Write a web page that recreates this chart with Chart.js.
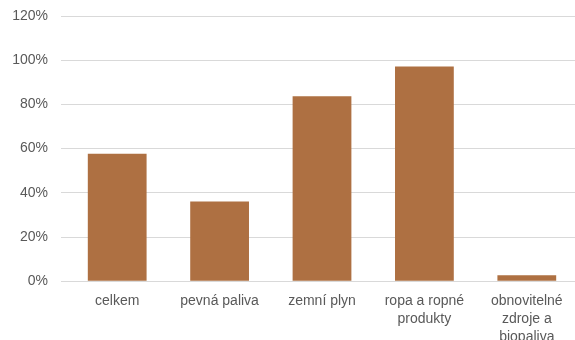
<!DOCTYPE html>
<html>
<head>
<meta charset="utf-8">
<script src="https://cdn.jsdelivr.net/npm/chart.js@4/dist/chart.umd.min.js"></script>
<style>
  html, body { margin: 0; padding: 0; background: #fff; overflow: hidden; }
  #wrap { position: relative; width: 578px; height: 349px; }
</style>
</head>
<body>
<div id="wrap"><canvas id="chart"></canvas></div>
<script>
const categories = [
  'celkem',
  'pevná paliva',
  'zemní plyn',
  ['ropa a ropné', 'produkty'],
  ['obnovitelné', 'zdroje a', 'biopaliva']
];
const shares = [57.7, 36.1, 83.7, 97.1, 2.7];
const yTicks = [0, 20, 40, 60, 80, 100, 120];

const gray = '#595959';
const gridColor = '#d9d9d9';

new Chart(document.getElementById('chart'), {
  type: 'bar',
  data: {
    labels: categories,
    datasets: [{
      data: shares,
      backgroundColor: '#ae7042',
      borderWidth: 0,
      categoryPercentage: 1,
      barPercentage: 0.574
    }]
  },
  options: {
    responsive: true,
    maintainAspectRatio: false,
    animation: false,
    layout: { padding: { top: 16, right: 0, left: 0, bottom: 0 } },
    plugins: { legend: { display: false }, tooltip: { enabled: false } },
    scales: {
      x: {
        grid: { display: false },
        border: { color: gridColor, width: 1 },
        ticks: {
          color: gray,
          font: { family: 'Liberation Sans, Arial, sans-serif', size: 14, lineHeight: 1.28 },
          maxRotation: 0,
          autoSkip: false,
          padding: 3
        }
      },
      y: {
        min: yTicks[0],
        max: yTicks[yTicks.length - 1],
        afterBuildTicks: s => { s.ticks = yTicks.map(v => ({ value: v })); },
        // fixed axis width; tick padding should not push the plot down
        afterFit: s => { s.width = 66; s.paddingTop = 0; s.paddingBottom = 0; },
        grid: { color: gridColor, lineWidth: 1, tickLength: 5, drawTicks: true },
        border: { display: false },
        ticks: {
          color: gray,
          font: { family: 'Liberation Sans, Arial, sans-serif', size: 14 },
          padding: 13,
          callback: v => v + '%'
        }
      }
    }
  }
});
</script>
</body>
</html>
